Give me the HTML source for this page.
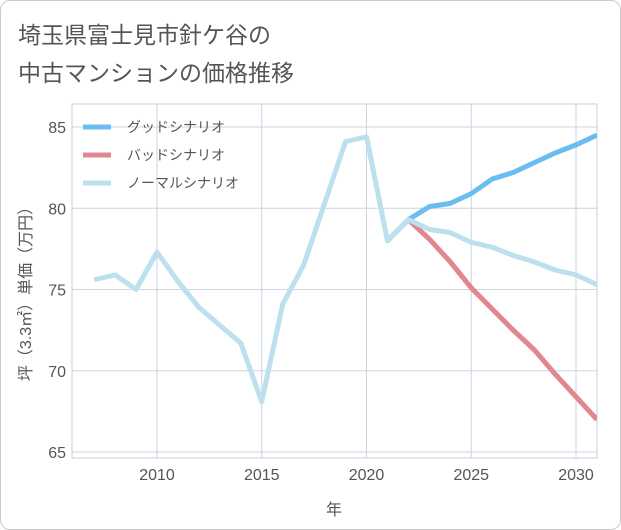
<!DOCTYPE html>
<html><head><meta charset="utf-8">
<style>
body{margin:0;background:#fff;font-family:"Liberation Sans","Noto Sans CJK JP",sans-serif;}
#card{position:absolute;left:0;top:0;width:619px;height:528px;border:1px solid #ccc;border-radius:10px;background:#fff;}
.t{position:absolute;left:17px;font-size:23px;color:#555;}
</style></head><body>
<div id="card">
<div class="t" style="top:15px">埼玉県富士見市針ケ谷の</div>
<div class="t" style="top:53px">中古マンションの価格推移</div>
</div>
<svg id="chart" width="621" height="530" style="position:absolute;left:0;top:0"></svg>
<script>
const years=[2007,2008,2009,2010,2011,2012,2013,2014,2015,2016,2017,2018,2019,2020,2021,2022,2023,2024,2025,2026,2027,2028,2029,2030,2031];
const normal=[75.6,75.9,75.0,77.3,75.5,73.9,72.8,71.7,68.1,74.1,76.5,80.3,84.1,84.4,78.0,79.3,78.7,78.5,77.9,77.6,77.1,76.7,76.2,75.9,75.3];
const fYears=[2021,2022,2023,2024,2025,2026,2027,2028,2029,2030,2031];
const good=[78.0,79.3,80.1,80.3,80.9,81.8,82.2,82.8,83.4,83.9,84.5];
const bad=[78.0,79.3,78.1,76.7,75.1,73.8,72.5,71.3,69.8,68.4,67.0];
const xTicks=[2010,2015,2020,2025,2030];
const yTicks=[65,70,75,80,85];
const legendLabels=["グッドシナリオ","バッドシナリオ","ノーマルシナリオ"];
const colors=["#6bbcf0","#e0878f","#bde0ee"];
const L=72,R=597,T=104,B=458;
const x=v=>157+(v-2010)*20.95;
const y=v=>452-(v-65)*16.25;
const svg=document.getElementById('chart');
const NS='http://www.w3.org/2000/svg';
function mk(t,a,p){const e=document.createElementNS(NS,t);for(const k in a)e.setAttribute(k,a[k]);(p||svg).appendChild(e);return e;}
let e=mk('rect',{x:L,y:T,width:R-L,height:B-T,fill:'none',stroke:'#c8d2dc'});


xTicks.forEach(t=>{
 let g=mk('line',{x1:x(t),x2:x(t),y1:T,y2:B,stroke:'#c8d6e2'});
 
 
 let l=mk('text',{x:x(t),y:480,'text-anchor':'middle','font-size':16,fill:'#555'});l.textContent=t;
 
 
});
yTicks.forEach(t=>{
 let g=mk('line',{x1:L,x2:R,y1:y(t),y2:y(t),stroke:'#c8d6e2'});
 
 
 let l=mk('text',{x:66,y:y(t)+6,'text-anchor':'end','font-size':16,fill:'#555'});l.textContent=t;
 
 
});
let xt=mk('text',{x:334,y:515,'text-anchor':'middle','font-size':16,fill:'#555'});xt.textContent='年';


let yt=mk('text',{x:0,y:0,'text-anchor':'middle','font-size':16,fill:'#555',transform:'translate(31,290) rotate(-90)'});yt.textContent='坪（3.3㎡）単価（万円）';


const clip=mk('clipPath',{id:'c'});mk('rect',{x:L,y:T,width:R-L,height:B-T},clip);
function line(xs,vs,c,name){
 const p=mk('polyline',{points:xs.map((v,i)=>x(v)+','+y(vs[i])).join(' '),fill:'none',stroke:c,'stroke-width':5,'stroke-linejoin':'round','clip-path':'url(#c)'});
 
 
}
line(fYears,bad,colors[1],'bad-scenario-line');
line(fYears,good,colors[0],'good-scenario-line');
line(years,normal,colors[2],'normal-scenario-line');
legendLabels.forEach((s,i)=>{
 const yy=127+i*28;
 let sw=mk('line',{x1:83,x2:111,y1:yy,y2:yy,stroke:colors[i],'stroke-width':5});
 
 
 let tx=mk('text',{x:127,y:yy+5,'font-size':14,fill:'#555'});tx.textContent=s;
 
 
});
</script>
</body></html>
